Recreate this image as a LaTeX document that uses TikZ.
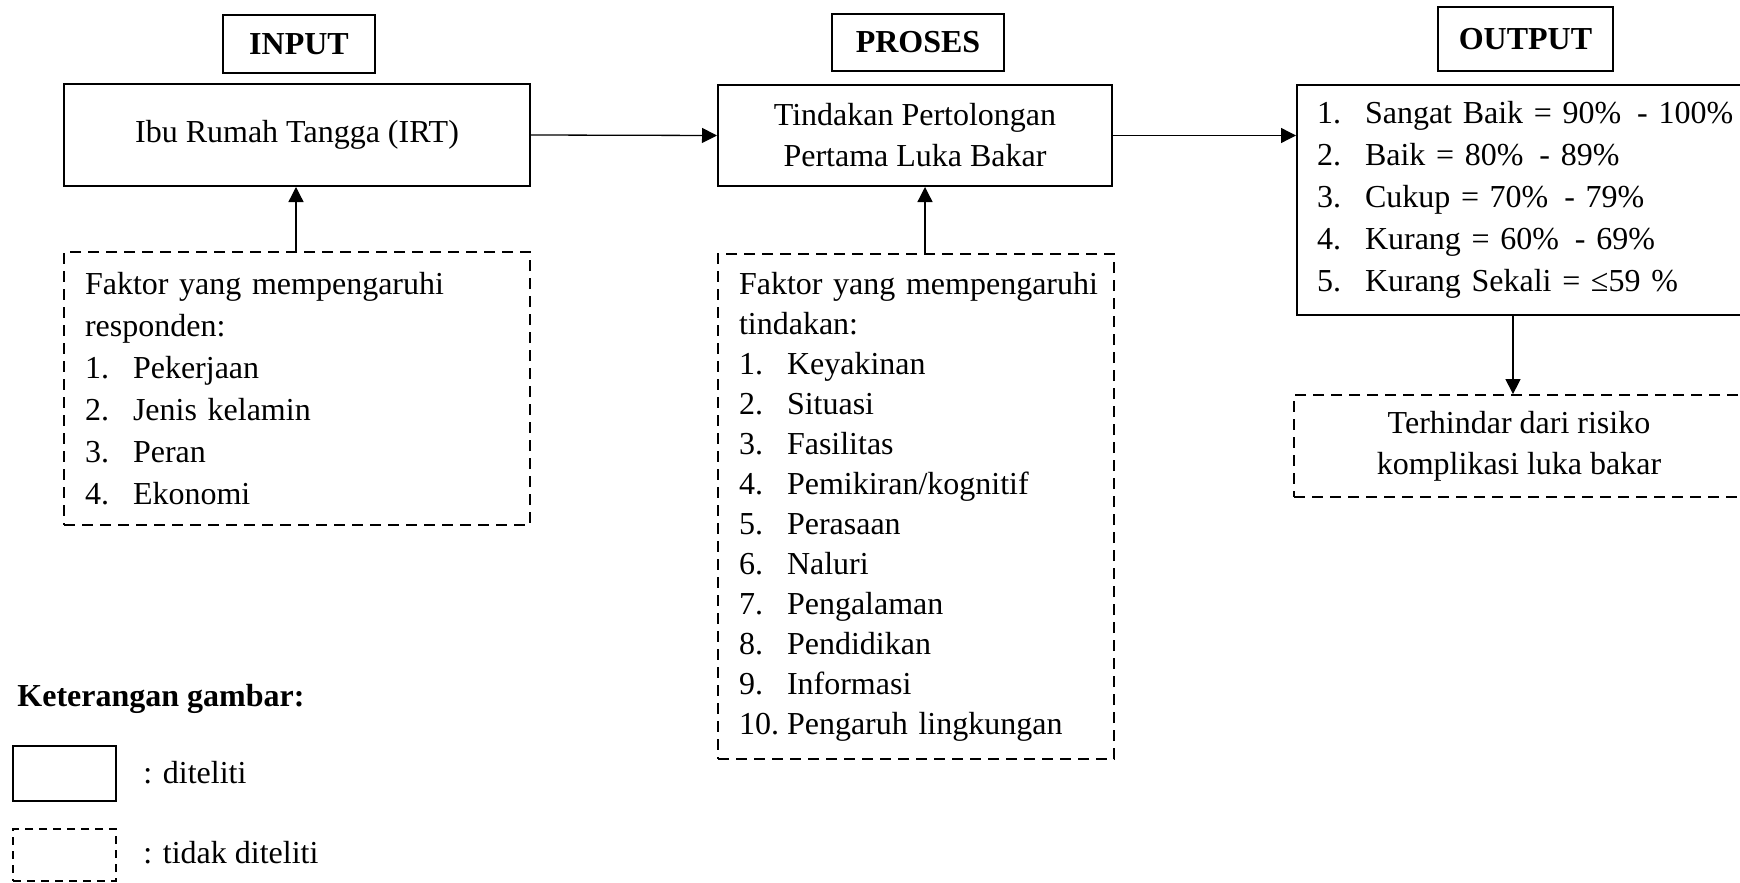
\documentclass[tikz,border=0pt]{standalone}
\usepackage{fontspec}
\setmainfont{Liberation Serif}
\usetikzlibrary{arrows.meta}
\newcommand{\itm}[2]{\mbox{\makebox[24pt][l]{#1}#2}}
\hbadness=10000 \hfuzz=100pt
\begin{document}
\begin{tikzpicture}[x=0.5pt,y=-0.5pt,
  every node/.style={font=\fontsize{16}{21}\selectfont, inner sep=0pt},
  solidbox/.style={draw, line width=1pt},
  dashbox/.style={draw, line width=0.9pt, dash pattern=on 5.5pt off 3.5pt},
  head/.style={draw, line width=1pt, font=\fontsize{16}{21}\selectfont\bfseries},
  conn/.style={line width=0.65pt, -{Triangle[length=7.5pt,width=7.5pt]}}
]
\useasboundingbox (0,0) rectangle (1740,883);

% headings
\node[head, minimum width=76pt, minimum height=29pt] (hin) at (299,44) {INPUT};
\node[head, minimum width=86pt, minimum height=28.5pt] (hpro) at (918,42.5) {PROSES};
\node[head, minimum width=87.5pt, minimum height=32pt] (hout) at (1525.5,39) {OUTPUT};

% main boxes
\node[solidbox, minimum width=233pt, minimum height=51pt] (irt) at (297,135) {Ibu Rumah Tangga (IRT)};
\node[solidbox, minimum width=197pt, minimum height=50.5pt, align=center,
      font=\fontsize{16}{20.5}\selectfont] (tind) at (915,135.5)
      {Tindakan Pertolongan\\Pertama Luka Bakar};
\node[solidbox, minimum width=224pt, minimum height=115pt, inner xsep=10pt,
      text width=204pt, align=left] (outl) at (1521,200)
      {\itm{1.}{Sangat Baik = 90\% \,- 100\%}\\
       \itm{2.}{Baik = 80\% \,- 89\%}\\
       \itm{3.}{Cukup = 70\% \,- 79\%}\\
       \itm{4.}{Kurang = 60\% \,- 69\%}\\
       \itm{5.}{Kurang Sekali = ≤59 \%}};

% dashed boxes
\node[dashbox, minimum width=233pt, minimum height=136.5pt, inner xsep=10.5pt,
      text width=212pt, align=left] (fak1) at (297,388.5)
      {\mbox{Faktor yang mempengaruhi}\\
       \mbox{responden:}\\
       \itm{1.}{Pekerjaan}\\
       \itm{2.}{Jenis kelamin}\\
       \itm{3.}{Peran}\\
       \itm{4.}{Ekonomi}};
\node[dashbox, minimum width=198pt, minimum height=252.5pt, inner xsep=10.5pt,
      text width=177pt, align=left, font=\fontsize{16}{20}\selectfont] (fak2) at (916,506.5)
      {\mbox{Faktor yang mempengaruhi}\\
       \mbox{tindakan:}\\
       \itm{1.}{Keyakinan}\\
       \itm{2.}{Situasi}\\
       \itm{3.}{Fasilitas}\\
       \itm{4.}{Pemikiran/kognitif}\\
       \itm{5.}{Perasaan}\\
       \itm{6.}{Naluri}\\
       \itm{7.}{Pengalaman}\\
       \itm{8.}{Pendidikan}\\
       \itm{9.}{Informasi}\\
       \itm{10.}{Pengaruh lingkungan}};
\node[dashbox, minimum width=225pt, minimum height=51pt, align=center,
      font=\fontsize{16}{20.5}\selectfont] (hind) at (1519,446)
      {Terhindar dari risiko\\komplikasi luka bakar};

% connectors
\coordinate (a1) at (296,0);
\coordinate (a2) at (925,0);
\coordinate (a3) at (1513,0);
\draw[conn] (irt.east) -- (tind.west);
\draw[conn] (tind.east) -- (tind.east -| outl.west);
\draw[conn] (a1 |- fak1.north) -- (a1 |- irt.south);
\draw[conn] (a2 |- fak2.north) -- (a2 |- tind.south);
\draw[conn] (a3 |- outl.south) -- (a3 |- hind.north);

% legend
\node[anchor=base west, font=\fontsize{16}{21}\selectfont\bfseries] (ket) at (17,706) {Keterangan gambar:};
\node[draw, line width=1.4pt, minimum width=51.5pt, minimum height=27.5pt] (lg1) at (64.5,773.5) {};
\node[anchor=base west] (lt1) at (143,783) {: diteliti};
\node[draw, line width=1.2pt, dash pattern=on 4pt off 3pt, minimum width=51.5pt, minimum height=26pt] (lg2) at (64.5,855) {};
\node[anchor=base west] (lt2) at (143,863) {: tidak diteliti};
\end{tikzpicture}
\end{document}
